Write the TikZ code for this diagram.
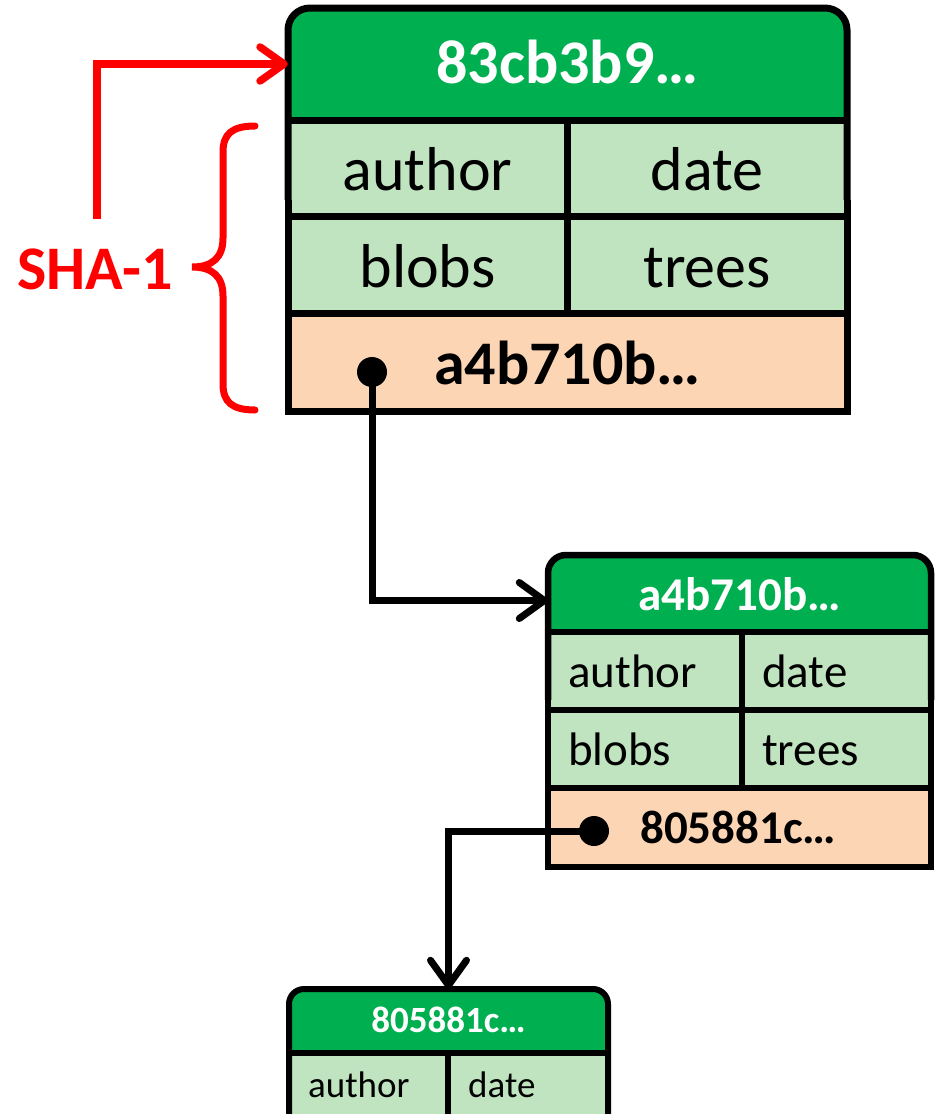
\documentclass[tikz,border=0pt]{standalone}
\usepackage{fontspec}
\setmainfont{Carlito}
\usetikzlibrary{arrows.meta}
\definecolor{hdrgreen}{RGB}{0,176,80}
\definecolor{cellgreen}{RGB}{192,228,192}
\definecolor{cellpeach}{RGB}{252,213,180}
\definecolor{hashred}{RGB}{255,0,0}
\tikzset{
  fbig/.style={font=\fontsize{62pt}{70pt}\selectfont},
  fmid/.style={font=\fontsize{47pt}{54pt}\selectfont},
  fsmall/.style={font=\fontsize{37pt}{44pt}\selectfont},
  hdrtext/.style={inner sep=0pt, text=white, text depth=0pt},
  celltext/.style={inner sep=0pt, text=black},
  hashtext/.style={inner sep=0pt, text=black},
  ptrdot/.style={circle, fill=black, inner sep=0pt, minimum size=30pt},
  link/.style={line width=7pt, draw=black,
    -{Straight Barb[length=25pt,width=36pt,round]}},
  redlink/.style={line width=7.5pt, draw=hashred,
    -{Straight Barb[length=24pt,width=34pt,round]}},
}
\begin{document}
\begin{tikzpicture}[x=1pt,y=-1pt]
\useasboundingbox (0,0) rectangle (940,1114);
\clip (0,0) rectangle (940,1114);

% ---------------- commit 83cb3b9 ----------------
\fill[hdrgreen, rounded corners=22pt] (288,150) -- (288,8) -- (847,8) -- (847,150) -- cycle;
\fill[cellgreen] (288,120) rectangle (847,313);
\fill[cellpeach] (288,313) rectangle (847,411);
\begin{scope}[line width=7pt]
  \draw[rounded corners=22pt] (288,200) -- (288,8) -- (847,8) -- (847,200);
  \draw[line join=miter] (847,200) -- (847,411) -- (288,411) -- (288,200);
  \draw (288,120) -- (847,120) (288,216) -- (847,216) (288,313) -- (847,313)
        (567,120) -- (567,313);
\end{scope}
\node[hdrtext, fbig, minimum width=559pt, minimum height=112pt, text height=38pt]
  (h1) at (567.5,64) {\bfseries 83cb3b9…};
\node[celltext, fbig, anchor=base] (a1) at (427.5,190) {author};
\node[celltext, fbig, anchor=base] (t1) at (707,190) {date};
\node[celltext, fbig, anchor=base] (b1) at (427.5,287) {blobs};
\node[celltext, fbig, anchor=base] (r1) at (707,287) {trees};
\node[hashtext, fbig, anchor=base] (p1) at (567.5,384) {\bfseries a4b710b…};

% ---------------- commit a4b710b ----------------
\fill[hdrgreen, rounded corners=18pt] (548,660) -- (548,555) -- (931,555) -- (931,660) -- cycle;
\fill[cellgreen] (548,632) rectangle (931,788);
\fill[cellpeach] (548,788) rectangle (931,867);
\begin{scope}[line width=6.5pt]
  \draw[rounded corners=18pt] (548,700) -- (548,555) -- (931,555) -- (931,700);
  \draw[line join=miter] (931,700) -- (931,867) -- (548,867) -- (548,700);
  \draw (548,632) -- (931,632) (548,710) -- (931,710) (548,788) -- (931,788)
        (742,632) -- (742,788);
\end{scope}
\node[hdrtext, fmid, minimum width=383pt, minimum height=77pt, text height=33pt]
  (h2) at (739.5,593.5) {\bfseries a4b710b…};
\node[celltext, fmid, anchor=base west] (a2) at (568,687) {author};
\node[celltext, fmid, anchor=base west] (t2) at (762,687) {date};
\node[celltext, fmid, anchor=base west] (b2) at (568,765) {blobs};
\node[celltext, fmid, anchor=base west] (r2) at (762,765) {trees};
\node[hashtext, fmid, anchor=base west] (p2) at (640,843) {\bfseries 805881c…};

% ---------------- commit 805881c ----------------
\fill[hdrgreen, rounded corners=15pt] (289,1080) -- (289,989) -- (608,989) -- (608,1080) -- cycle;
\fill[cellgreen] (289,1053) rectangle (608,1130);
\begin{scope}[line width=6pt]
  \draw[rounded corners=15pt] (289,1130) -- (289,989) -- (608,989) -- (608,1130);
  \draw (289,1053) -- (608,1053) (448,1053) -- (448,1130);
\end{scope}
\node[hdrtext, fsmall, minimum width=319pt, minimum height=64pt, text height=22pt]
  (h3) at (448.5,1021) {\bfseries 805881c…};
\node[celltext, fsmall, anchor=base west] (a3) at (308,1097) {author};
\node[celltext, fsmall, anchor=base west] (t3) at (468,1097) {date};

% ---------------- parent pointers ----------------
\node[ptrdot] (d1) at (372,372) {};
\node[ptrdot] (d2) at (594,831) {};
\draw[link] (d1.center) |- ([yshift=-7pt]h2.west);
\draw[link] (d2.center) -| (h3.north);

% ---------------- SHA-1 annotation ----------------
\node[inner sep=0pt, text=hashred, fbig, anchor=base] (sha) at (95,289) {\bfseries SHA-1};
\coordinate (shastart) at (97,219);
\draw[redlink] (shastart) |- (h1.west);
\draw[hashred, line width=7pt, line cap=round]
  (255,126) .. controls (232,126) and (223,134) .. (223,152)
  -- (223,238) .. controls (223,258) and (212,267) .. (192,267)
  .. controls (212,267) and (223,276) .. (223,296)
  -- (223,384) .. controls (223,402) and (232,410) .. (255,410);
\end{tikzpicture}
\end{document}
